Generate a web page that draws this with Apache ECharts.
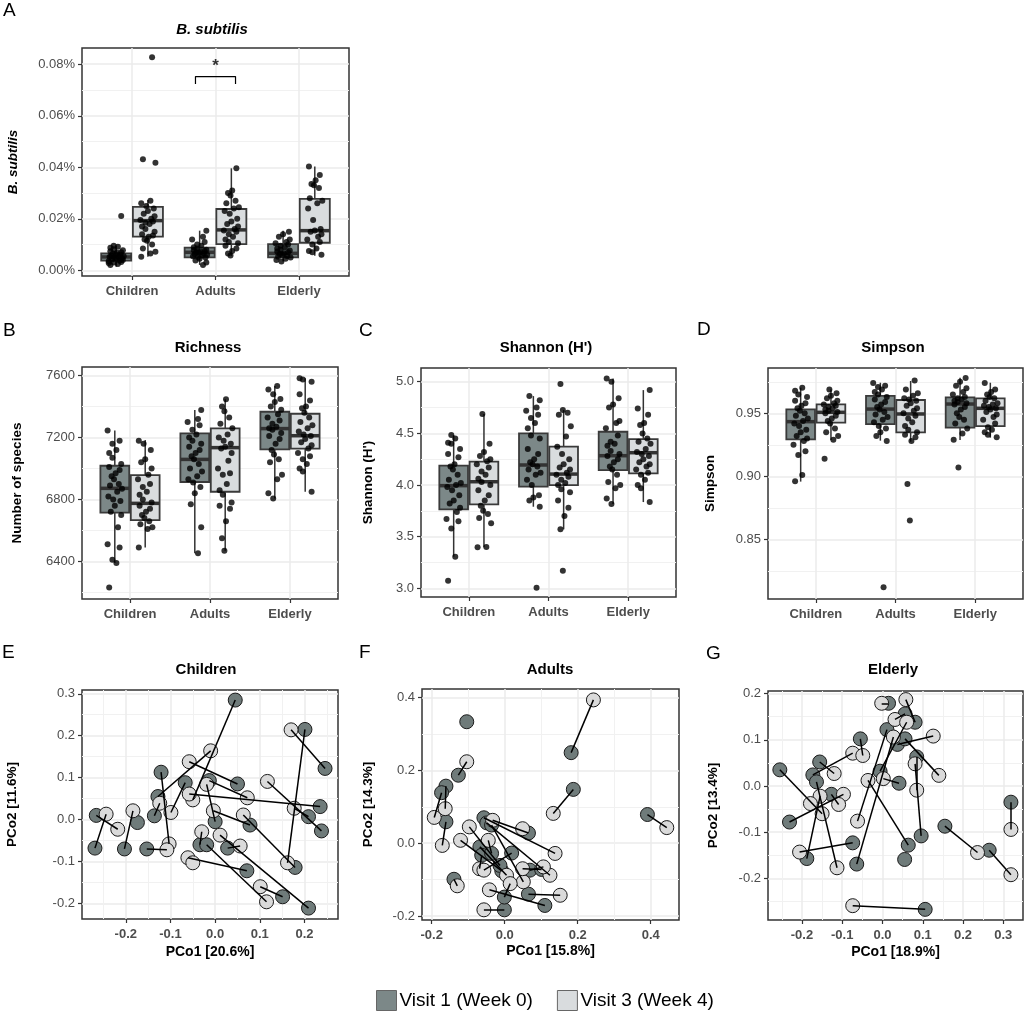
<!DOCTYPE html>
<html>
<head>
<meta charset="utf-8">
<script src="https://cdn.jsdelivr.net/npm/echarts@6/dist/echarts.min.js"></script>
<style>
html, body { margin: 0; padding: 0; background: #fff; }
#chart { width: 1024px; height: 1012px; }
</style>
</head>
<body>
<div id="chart"></div>
<script>
// ---- data ----
const CATS = ['Children', 'Adults', 'Elderly'];
const VISITS = ['Visit 1 (Week 0)', 'Visit 3 (Week 4)'];

// box stats per category: [lower whisker, q1, median, q3, upper whisker]
const A_V1_BOX = [[0.0014, 0.0038, 0.0052, 0.0066, 0.0095], [0.0021, 0.0050, 0.0070, 0.0088, 0.0154], [0.0034, 0.0050, 0.0066, 0.0102, 0.0154]];
const A_V3_BOX = [[0.0053, 0.0131, 0.0193, 0.0246, 0.0273], [0.0056, 0.0102, 0.0157, 0.0238, 0.0396], [0.0057, 0.0107, 0.0154, 0.0277, 0.0403]];
const A_V1_PTS = [
  [0.0021, 0.0025, 0.003, 0.0032, 0.0035, 0.0038, 0.004, 0.0042, 0.0045, 0.0047, 0.005, 0.0052, 0.0053, 0.0055, 0.0057, 0.006, 0.0062, 0.0065, 0.0068, 0.007, 0.0074, 0.0078, 0.0082, 0.0088, 0.0092, 0.0095, 0.0211, 0.0028],
  [0.0021, 0.003, 0.0038, 0.0045, 0.005, 0.0052, 0.0055, 0.0058, 0.006, 0.0063, 0.0065, 0.0068, 0.007, 0.0072, 0.0075, 0.0078, 0.008, 0.0085, 0.009, 0.0095, 0.01, 0.011, 0.012, 0.013, 0.0154],
  [0.0034, 0.004, 0.0045, 0.005, 0.0053, 0.0056, 0.006, 0.0063, 0.0066, 0.007, 0.0073, 0.0077, 0.008, 0.0085, 0.009, 0.0095, 0.01, 0.0105, 0.011, 0.012, 0.013, 0.014, 0.015]
];
const A_V3_PTS = [
  [0.0053, 0.0065, 0.0072, 0.0085, 0.01, 0.0115, 0.012, 0.013, 0.0135, 0.014, 0.015, 0.016, 0.017, 0.018, 0.0185, 0.019, 0.0195, 0.02, 0.021, 0.022, 0.023, 0.024, 0.025, 0.026, 0.027, 0.0418, 0.0431, 0.0827],
  [0.0058, 0.0065, 0.0075, 0.0085, 0.0095, 0.0105, 0.011, 0.012, 0.013, 0.014, 0.015, 0.0155, 0.016, 0.017, 0.018, 0.019, 0.02, 0.022, 0.023, 0.024, 0.0245, 0.026, 0.027, 0.029, 0.03, 0.031, 0.0396],
  [0.006, 0.007, 0.0075, 0.0085, 0.01, 0.011, 0.012, 0.013, 0.014, 0.015, 0.0155, 0.016, 0.0195, 0.024, 0.026, 0.027, 0.028, 0.032, 0.033, 0.0335, 0.035, 0.037, 0.0403]
];
const A_TICKS = [0, 0.02, 0.04, 0.06, 0.08];
const A_MINOR = [0.01, 0.03, 0.05, 0.07];
// significance bracket Adults V1 vs V3
const SIG_LEFT = 1.76, SIG_RIGHT = 2.24, SIG_TOP = 0.0752, SIG_TIP = 0.0723, STAR_Y = 0.0793;

const B_V1_BOX = [[6390, 6715, 6872, 7018, 7245], [6452, 6913, 7059, 7227, 7378], [6807, 7124, 7258, 7367, 7533]];
const B_V3_BOX = [[6489, 6667, 6775, 6958, 7184], [6469, 6850, 7135, 7260, 7447], [6850, 7128, 7212, 7354, 7583]];
const B_V1_PTS = [
  [6232, 6390, 6410, 6490, 6510, 6620, 6700, 6720, 6760, 6790, 6800, 6820, 6850, 6870, 6890, 6900, 6930, 6950, 6970, 6990, 7010, 7030, 7070, 7100, 7120, 7160, 7180, 7245],
  [6452, 6620, 6770, 6840, 6880, 6910, 6930, 6950, 6980, 7000, 7030, 7060, 7080, 7100, 7120, 7140, 7160, 7180, 7200, 7220, 7250, 7280, 7300, 7320, 7378],
  [6807, 6840, 6930, 6960, 7040, 7060, 7090, 7120, 7160, 7190, 7210, 7230, 7250, 7260, 7270, 7290, 7310, 7330, 7350, 7380, 7400, 7430, 7450, 7480, 7510, 7533]
];
const B_V3_PTS = [
  [6489, 6610, 6620, 6640, 6660, 6680, 6700, 6720, 6740, 6760, 6780, 6800, 6830, 6850, 6880, 6900, 6930, 6960, 7000, 7040, 7060, 7120, 7160, 7180],
  [6469, 6550, 6660, 6740, 6760, 6780, 6830, 6860, 6900, 6960, 6970, 7000, 7050, 7100, 7130, 7140, 7160, 7180, 7200, 7220, 7260, 7290, 7330, 7370, 7400, 7447],
  [6850, 6980, 7000, 7030, 7060, 7080, 7100, 7130, 7150, 7170, 7190, 7210, 7220, 7240, 7260, 7280, 7300, 7330, 7360, 7390, 7400, 7440, 7480, 7560, 7575, 7583]
];
const B_TICKS = [6400, 6800, 7200, 7600];
const B_MINOR = [6200, 6600, 7000, 7400];

const C_V1_BOX = [[3.306, 3.765, 3.994, 4.187, 4.484], [3.79, 3.984, 4.194, 4.5, 4.861], [3.816, 4.145, 4.284, 4.516, 5.032]];
const C_V3_BOX = [[3.397, 3.813, 4.032, 4.226, 4.687], [3.571, 4.0, 4.106, 4.371, 4.726], [3.835, 4.113, 4.313, 4.445, 4.919]];
const C_V1_PTS = [
  [3.074, 3.306, 3.58, 3.65, 3.67, 3.74, 3.78, 3.82, 3.85, 3.9, 3.95, 3.98, 4.0, 4.02, 4.05, 4.1, 4.15, 4.18, 4.2, 4.27, 4.3, 4.35, 4.4, 4.41, 4.45, 4.484],
  [3.006, 3.79, 3.85, 3.88, 3.9, 4.0, 4.05, 4.1, 4.12, 4.15, 4.18, 4.2, 4.22, 4.25, 4.3, 4.35, 4.45, 4.48, 4.55, 4.6, 4.65, 4.68, 4.72, 4.75, 4.82, 4.861],
  [3.816, 3.87, 3.97, 4.0, 4.03, 4.1, 4.15, 4.18, 4.22, 4.25, 4.28, 4.3, 4.33, 4.38, 4.4, 4.42, 4.48, 4.55, 4.6, 4.62, 4.75, 4.78, 4.84, 5.0, 5.032]
];
const C_V3_PTS = [
  [3.397, 3.4, 3.63, 3.68, 3.72, 3.75, 3.8, 3.85, 3.9, 3.95, 4.0, 4.03, 4.06, 4.1, 4.13, 4.17, 4.2, 4.23, 4.25, 4.28, 4.32, 4.4, 4.687],
  [3.171, 3.571, 3.7, 3.78, 3.85, 3.93, 3.96, 4.0, 4.02, 4.05, 4.08, 4.1, 4.12, 4.15, 4.17, 4.2, 4.25, 4.3, 4.37, 4.47, 4.57, 4.68, 4.7, 4.726, 4.977],
  [3.835, 3.97, 4.0, 4.05, 4.1, 4.12, 4.15, 4.18, 4.2, 4.22, 4.25, 4.28, 4.3, 4.32, 4.35, 4.4, 4.42, 4.45, 4.5, 4.58, 4.6, 4.68, 4.74, 4.919]
];
const C_TICKS = [3, 3.5, 4, 4.5, 5];
const C_MINOR = [3.25, 3.75, 4.25, 4.75];

const D_V1_BOX = [[0.8958, 0.9294, 0.9434, 0.9532, 0.9704], [0.9283, 0.9415, 0.9534, 0.9638, 0.9743], [0.9288, 0.9386, 0.9574, 0.9627, 0.9783]];
const D_V3_BOX = [[0.9288, 0.9426, 0.9508, 0.9571, 0.969], [0.9275, 0.9349, 0.9495, 0.9606, 0.9757], [0.9307, 0.9399, 0.954, 0.9619, 0.9743]];
const D_V1_PTS = [
  [0.896, 0.901, 0.917, 0.92, 0.925, 0.928, 0.93, 0.932, 0.935, 0.937, 0.94, 0.942, 0.944, 0.946, 0.948, 0.95, 0.952, 0.954, 0.956, 0.958, 0.96, 0.963, 0.965, 0.968, 0.9704],
  [0.812, 0.928, 0.932, 0.935, 0.938, 0.94, 0.943, 0.945, 0.947, 0.949, 0.951, 0.953, 0.955, 0.957, 0.959, 0.961, 0.963, 0.965, 0.967, 0.969, 0.971, 0.972, 0.974],
  [0.907, 0.929, 0.934, 0.938, 0.942, 0.945, 0.947, 0.95, 0.953, 0.955, 0.957, 0.958, 0.959, 0.96, 0.961, 0.962, 0.963, 0.965, 0.967, 0.97, 0.972, 0.975, 0.978]
];
const D_V3_PTS = [
  [0.914, 0.929, 0.932, 0.935, 0.938, 0.942, 0.944, 0.946, 0.948, 0.95, 0.951, 0.952, 0.953, 0.954, 0.955, 0.956, 0.957, 0.958, 0.96, 0.962, 0.964, 0.966, 0.969],
  [0.865, 0.894, 0.928, 0.931, 0.933, 0.935, 0.937, 0.94, 0.943, 0.946, 0.948, 0.95, 0.952, 0.954, 0.956, 0.958, 0.96, 0.961, 0.962, 0.964, 0.966, 0.969, 0.976],
  [0.931, 0.933, 0.935, 0.937, 0.939, 0.942, 0.945, 0.947, 0.949, 0.951, 0.953, 0.954, 0.955, 0.956, 0.957, 0.958, 0.96, 0.962, 0.963, 0.965, 0.967, 0.969, 0.974]
];
const D_TICKS = [0.85, 0.9, 0.95];
const D_MINOR = [0.825, 0.875, 0.925, 0.975];

// PCoA coordinates, subject i: visit 1 (V1) and visit 3 (V3); null = missing
const E_V1_X = [0.045, 0.246, 0.201, -0.128, -0.121, -0.067, 0.050, -0.013, 0.235, 0.238, 0.209, 0.000, -0.034, -0.269, -0.266, -0.203, -0.174, -0.153, -0.019, 0.209, 0.028, 0.071, 0.179, 0.151, -0.136, 0.078, null];
const E_V1_Y = [0.285, 0.122, 0.215, 0.055, 0.113, 0.088, 0.085, 0.093, 0.031, -0.027, 0.007, -0.005, -0.060, -0.068, 0.010, -0.070, -0.007, -0.070, -0.060, -0.211, -0.068, -0.122, -0.114, -0.184, 0.009, -0.013, null];
const E_V3_X = [-0.050, 0.170, 0.162, -0.010, -0.103, -0.099, -0.058, 0.072, -0.058, 0.117, 0.177, -0.019, -0.030, -0.244, -0.218, -0.184, null, -0.108, 0.115, 0.011, 0.056, -0.061, 0.063, 0.101, -0.124, -0.004, -0.050];
const E_V3_Y = [0.047, 0.214, -0.103, 0.164, -0.058, 0.017, 0.138, 0.052, 0.061, 0.091, 0.027, 0.084, -0.029, 0.013, -0.023, 0.021, null, -0.072, -0.196, -0.037, -0.063, -0.091, 0.011, -0.160, 0.039, 0.021, -0.103];

const F_V1_X = [0.182, 0.188, 0.391, -0.104, -0.127, -0.161, -0.173, -0.161, -0.139, -0.001, 0.110, 0.065, -0.008, -0.013, -0.057, -0.049, -0.036, 0.065, -0.068, -0.063, -0.036, 0.019, 0.069, 0.101, -0.001, null];
const F_V1_Y = [0.249, 0.148, 0.079, 0.334, 0.187, 0.157, 0.139, 0.059, -0.099, -0.183, -0.171, -0.140, -0.076, -0.061, 0.070, 0.056, 0.050, 0.028, -0.010, -0.033, -0.028, -0.027, -0.074, -0.072, -0.148, null];
const F_V3_X = [0.243, 0.133, 0.444, null, -0.104, -0.163, -0.193, -0.171, -0.130, -0.057, -0.042, 0.152, -0.121, -0.097, 0.138, 0.124, 0.051, -0.033, 0.005, -0.069, -0.045, -0.057, 0.106, 0.049, 0.015, 0.049];
const F_V3_Y = [0.394, 0.082, 0.043, null, 0.224, 0.095, 0.071, -0.006, -0.117, -0.183, -0.128, -0.143, 0.008, 0.045, -0.028, -0.088, -0.106, 0.063, -0.088, -0.070, 0.008, -0.074, -0.065, -0.070, -0.111, 0.040];

const G_V1_X = [0.106, 0.319, 0.265, 0.155, -0.255, -0.231, -0.127, -0.173, -0.156, -0.164, -0.188, -0.074, null, -0.064, 0.011, 0.064, 0.041, -0.055, 0.085, 0.096, 0.055, 0.037, 0.056, 0.015, 0.081, 0.056, -0.006];
const G_V1_Y = [-0.267, -0.035, -0.139, -0.087, 0.035, -0.078, -0.018, 0.024, 0.052, 0.009, -0.157, -0.123, null, -0.169, 0.122, -0.128, 0.006, 0.102, 0.063, -0.108, -0.159, 0.090, 0.102, 0.179, 0.138, 0.156, 0.032];
const G_V3_X = [-0.074, 0.319, 0.319, 0.236, -0.150, -0.097, -0.109, -0.074, -0.120, -0.113, -0.155, -0.206, -0.179, 0.027, -0.062, -0.036, 0.002, -0.049, 0.085, 0.081, null, 0.126, 0.140, -0.002, 0.058, 0.031, 0.060];
const G_V3_Y = [-0.259, -0.094, -0.192, -0.144, -0.060, -0.018, -0.040, 0.071, 0.027, -0.177, -0.022, -0.143, -0.038, 0.106, -0.076, 0.012, 0.016, 0.066, -0.009, 0.048, null, 0.108, 0.023, 0.179, 0.187, 0.144, 0.138];

const E_XTICKS = [-0.2, -0.1, 0, 0.1, 0.2], E_XMINOR = [-0.25, -0.15, -0.05, 0.05, 0.15, 0.25];
const E_YTICKS = [-0.2, -0.1, 0, 0.1, 0.2, 0.3], E_YMINOR = [-0.15, -0.05, 0.05, 0.15, 0.25];
const F_XTICKS = [-0.2, 0, 0.2, 0.4], F_XMINOR = [-0.1, 0.1, 0.3];
const F_YTICKS = [-0.2, 0, 0.2, 0.4], F_YMINOR = [-0.1, 0.1, 0.3];
const G_XTICKS = [-0.2, -0.1, 0, 0.1, 0.2, 0.3], G_XMINOR = [-0.25, -0.15, -0.05, 0.05, 0.15, 0.25];
const G_YTICKS = [-0.2, -0.1, 0, 0.1, 0.2], G_YMINOR = [-0.25, -0.15, -0.05, 0.05, 0.15];

// ---- styling ----
const FONT = '"Liberation Sans", Arial, Helvetica, sans-serif';
const BOX_FILL = ['#7c8888', '#d9dcde'];
const PT_FILL = ['#6f7b7a', '#dadada'];
const OFFSET = [-0.19, 0.19];
const BOX_W = 0.36;
const JITTER = [-0.07, 0.02, -0.03, 0.06, -0.09, 0.04, 0.08, -0.05, 0.0, 0.07, -0.02, -0.08, 0.03, 0.09, -0.06, 0.05, -0.01, -0.04, 0.01, 0.06, -0.07, 0.08, -0.03];

const chart = echarts.init(document.getElementById('chart'));
const option = {
  animation: false,
  backgroundColor: '#fff',
  textStyle: { fontFamily: FONT },
  title: [], grid: [], xAxis: [], yAxis: [], series: [],
  legend: {
    left: 376, top: 990, padding: 0, itemWidth: 20, itemHeight: 20, itemGap: 24, icon: 'rect',
    selectedMode: false, data: VISITS,
    itemStyle: { borderColor: '#666', borderWidth: 1 },
    textStyle: { fontSize: 19, color: '#000', fontFamily: FONT, padding: [0, 0, 0, -2] }
  }
};

const tickLabel = { color: '#4d4d4d', fontSize: 13, fontFamily: FONT };
const tickLine = { length: 4, lineStyle: { color: '#333', width: 1.2 } };
const majorGrid = { show: true, lineStyle: { color: '#ebebeb', width: 1.5 } };
const minorGrid = { show: true, lineStyle: { color: '#f1f1f1', width: 1 } };

function addPanel(p) {
  const gi = option.grid.length;
  option.grid.push({ left: p.box[0], top: p.box[1], width: p.box[2], height: p.box[3], show: true, borderColor: '#333', borderWidth: 1.5, backgroundColor: '#fff' });
  option.title.push({ text: p.title, left: p.titleX, top: p.titleY, textAlign: 'center', padding: 0,
    textStyle: { fontSize: 15, fontWeight: 'bold', fontStyle: p.italic ? 'italic' : 'normal', color: '#000', fontFamily: FONT } });
  option.title.push({ text: p.letter, left: p.letterPos[0], top: p.letterPos[1], padding: 0,
    textStyle: { fontSize: 19, fontWeight: 'normal', color: '#000', fontFamily: FONT } });
  // main axes
  option.xAxis.push({
    type: 'value', gridIndex: gi, min: p.x.min, max: p.x.max, position: 'bottom',
    name: p.x.name || '', nameLocation: 'middle', nameGap: p.x.gap || 0,
    nameTextStyle: { fontSize: 14, fontWeight: 'bold', color: '#000', fontFamily: FONT },
    axisLine: { show: false, onZero: false },
    axisTick: Object.assign({ show: true, customValues: p.x.ticks }, tickLine),
    axisLabel: Object.assign({ customValues: p.x.ticks, formatter: p.x.fmt, fontWeight: 'bold', margin: 9 }, tickLabel),
    splitLine: majorGrid
  });
  option.yAxis.push({
    type: 'value', gridIndex: gi, min: p.y.min, max: p.y.max, position: 'left',
    name: p.y.name, nameLocation: 'middle', nameGap: p.y.gap,
    nameTextStyle: { fontSize: 13.5, fontWeight: 'bold', fontStyle: p.italic ? 'italic' : 'normal', color: '#000', fontFamily: FONT },
    axisLine: { show: false, onZero: false },
    axisTick: Object.assign({ show: true, customValues: p.y.ticks }, tickLine),
    axisLabel: Object.assign({ customValues: p.y.ticks, formatter: p.y.fmt, margin: 7 }, tickLabel),
    splitLine: majorGrid
  });
  // minor grid axes
  option.xAxis.push({
    type: 'value', gridIndex: gi, min: p.x.min, max: p.x.max, position: 'top',
    show: !!p.x.minor,
    axisLine: { show: false, onZero: false }, axisLabel: { show: false },
    axisTick: { show: false, customValues: p.x.minor || [] },
    splitLine: minorGrid
  });
  option.yAxis.push({
    type: 'value', gridIndex: gi, min: p.y.min, max: p.y.max, position: 'right',
    axisLine: { show: false, onZero: false }, axisLabel: { show: false },
    axisTick: { show: false, customValues: p.y.minor },
    splitLine: minorGrid
  });
  return { xAxisIndex: 2 * gi, yAxisIndex: 2 * gi };
}

function boxRenderer(v) {
  return function (params, api) {
    const xc = api.value(0) + OFFSET[v];
    const lo = api.coord([xc, api.value(1)]);
    const q1 = api.coord([xc, api.value(2)]);
    const md = api.coord([xc, api.value(3)]);
    const q3 = api.coord([xc, api.value(4)]);
    const hi = api.coord([xc, api.value(5)]);
    const hw = api.size([BOX_W, 0])[0] / 2;
    const seg = (a, b, w) => ({ type: 'line', shape: { x1: a[0], y1: a[1], x2: b[0], y2: b[1] }, style: { stroke: '#333', lineWidth: w } });
    return {
      type: 'group', children: [
        seg(lo, q1, 1.5), seg(q3, hi, 1.5),
        { type: 'rect', shape: { x: md[0] - hw, y: q3[1], width: hw * 2, height: q1[1] - q3[1] }, style: { fill: BOX_FILL[v], stroke: '#3a3a3a', lineWidth: 1.8 } },
        seg([md[0] - hw, md[1]], [md[0] + hw, md[1]], 3.5)
      ]
    };
  };
}

function boxPanel(p, boxes, pts) {
  const ax = addPanel(p);
  boxes.forEach((b, v) => {
    option.series.push(Object.assign({
      type: 'custom', name: VISITS[v], renderItem: boxRenderer(v),
      itemStyle: { color: BOX_FILL[v] },
      data: b.map((s, k) => [k + 1].concat(s)), z: 2
    }, ax));
  });
  const data = [];
  pts.forEach((groups, v) => {
    groups.forEach((vals, k) => {
      vals.forEach((y, j) => {
        data.push([k + 1 + OFFSET[v] + JITTER[(j + k * 5 + v * 11) % JITTER.length], y]);
      });
    });
  });
  option.series.push(Object.assign({
    type: 'scatter', name: 'points', symbolSize: 6, data: data, z: 3,
    itemStyle: { color: '#000', opacity: 0.8 }
  }, ax));
  return ax;
}

function pcoaPanel(p, v1x, v1y, v3x, v3y) {
  const ax = addPanel(p);
  const segs = [];
  const d1 = [], d3 = [];
  v1x.forEach((x, i) => {
    if (x !== null) d1.push([x, v1y[i]]);
    if (v3x[i] !== null) d3.push([v3x[i], v3y[i]]);
    if (x !== null && v3x[i] !== null) segs.push({ coords: [[x, v1y[i]], [v3x[i], v3y[i]]] });
  });
  [d1, d3].forEach((d, v) => {
    option.series.push(Object.assign({
      type: 'scatter', name: VISITS[v], symbolSize: 14, data: d, z: 2,
      itemStyle: { color: PT_FILL[v], borderColor: '#1a1a1a', borderWidth: 1, opacity: 1 }
    }, ax));
  });
  option.series.push(Object.assign({
    type: 'lines', coordinateSystem: 'cartesian2d', data: segs, z: 3, silent: true,
    lineStyle: { color: '#000', width: 1.5, opacity: 1 }
  }, ax));
}

const catFmt = v => CATS[Math.round(v) - 1];
const catX = { min: 0.4, max: 3.6, ticks: [1, 2, 3], fmt: catFmt };
const f1 = v => v.toFixed(1);

const axA = boxPanel({
  box: [82, 48, 267, 228], title: 'B. subtilis', italic: true, titleX: 212, titleY: 22, letter: 'A', letterPos: [3, 1],
  x: catX,
  y: { min: -0.0022, max: 0.0863, ticks: A_TICKS, minor: A_MINOR, fmt: v => v.toFixed(2) + '%', name: 'B. subtilis', gap: 62 }
}, [A_V1_BOX, A_V3_BOX], [A_V1_PTS, A_V3_PTS]);

option.series.push(Object.assign({
  type: 'line', name: 'sig', symbol: 'none', z: 4, silent: true,
  lineStyle: { color: '#000', width: 1.2 },
  data: [[SIG_LEFT, SIG_TIP], [SIG_LEFT, SIG_TOP], [SIG_RIGHT, SIG_TOP], [SIG_RIGHT, SIG_TIP]]
}, axA));
option.series.push(Object.assign({
  type: 'scatter', name: 'star', symbolSize: 2, z: 4, silent: true,
  itemStyle: { color: 'rgba(0,0,0,0)' },
  label: { show: true, formatter: '*', position: 'inside', fontSize: 17, fontWeight: 'bold', color: '#000' },
  data: [[(SIG_LEFT + SIG_RIGHT) / 2, STAR_Y]]
}, axA));

boxPanel({
  box: [82, 367, 256, 232], title: 'Richness', titleX: 208, titleY: 340, letter: 'B', letterPos: [3, 321],
  x: catX,
  y: { min: 6157, max: 7656, ticks: B_TICKS, minor: B_MINOR, fmt: v => String(v), name: 'Number of species', gap: 58 }
}, [B_V1_BOX, B_V3_BOX], [B_V1_PTS, B_V3_PTS]);

boxPanel({
  box: [421, 368, 255, 229], title: "Shannon (H')", titleX: 546, titleY: 340, letter: 'C', letterPos: [359, 321],
  x: catX,
  y: { min: 2.916, max: 5.133, ticks: C_TICKS, minor: C_MINOR, fmt: f1, name: "Shannon (H')", gap: 46 }
}, [C_V1_BOX, C_V3_BOX], [C_V1_PTS, C_V3_PTS]);

boxPanel({
  box: [768, 368, 255, 231], title: 'Simpson', titleX: 893, titleY: 340, letter: 'D', letterPos: [697, 320],
  x: catX,
  y: { min: 0.8026, max: 0.986, ticks: D_TICKS, minor: D_MINOR, fmt: v => v.toFixed(2), name: 'Simpson', gap: 51 }
}, [D_V1_BOX, D_V3_BOX], [D_V1_PTS, D_V3_PTS]);

pcoaPanel({
  box: [82, 690, 256, 229], title: 'Children', titleX: 206, titleY: 662, letter: 'E', letterPos: [2, 643],
  x: { min: -0.298, max: 0.275, ticks: E_XTICKS, minor: E_XMINOR, fmt: f1, name: 'PCo1 [20.6%]', gap: 26 },
  y: { min: -0.237, max: 0.309, ticks: E_YTICKS, minor: E_YMINOR, fmt: f1, name: 'PCo2 [11.6%]', gap: 63 }
}, E_V1_X, E_V1_Y, E_V3_X, E_V3_Y);

pcoaPanel({
  box: [422, 689, 257, 231], title: 'Adults', titleX: 550, titleY: 662, letter: 'F', letterPos: [359, 643],
  x: { min: -0.2266, max: 0.4775, ticks: F_XTICKS, minor: F_XMINOR, fmt: f1, name: 'PCo1 [15.8%]', gap: 24 },
  y: { min: -0.211, max: 0.424, ticks: F_YTICKS, minor: F_YMINOR, fmt: f1, name: 'PCo2 [14.3%]', gap: 47 }
}, F_V1_X, F_V1_Y, F_V3_X, F_V3_Y);

pcoaPanel({
  box: [768, 691, 255, 229], title: 'Elderly', titleX: 893, titleY: 662, letter: 'G', letterPos: [706, 644],
  x: { min: -0.2844, max: 0.349, ticks: G_XTICKS, minor: G_XMINOR, fmt: f1, name: 'PCo1 [18.9%]', gap: 25 },
  y: { min: -0.29, max: 0.2056, ticks: G_YTICKS, minor: G_YMINOR, fmt: f1, name: 'PCo2 [13.4%]', gap: 48 }
}, G_V1_X, G_V1_Y, G_V3_X, G_V3_Y);

chart.setOption(option);
</script>
</body>
</html>
